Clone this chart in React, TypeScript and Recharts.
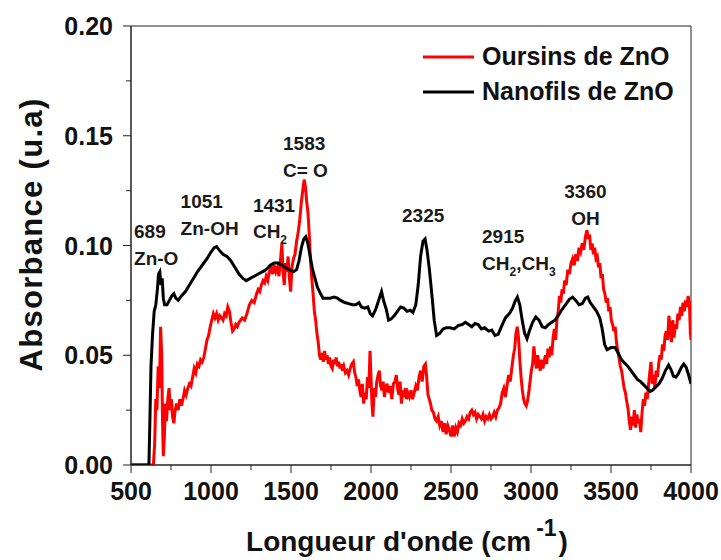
import React from 'react';
import { LineChart, Line, XAxis, YAxis, ReferenceArea, ReferenceDot, Legend, Label } from 'recharts';

const FONT = '"Liberation Sans", Arial, Helvetica, sans-serif';

// Oursins de ZnO (red)
const oursinsWavenumber = [
  500, 620, 640, 648, 655, 662, 670, 678, 685, 692, 697, 702, 708, 715, 722, 730, 738, 745, 752, 760,
  768, 776, 785, 795, 805, 815, 825, 835, 845, 855, 865, 875, 885, 895, 905, 915, 925, 935, 945, 955,
  965, 975, 985, 995, 1005, 1015, 1025, 1035, 1045, 1055, 1065, 1075, 1085, 1095, 1105, 1115, 1125, 1135, 1145, 1155,
  1165, 1175, 1185, 1195, 1210, 1225, 1240, 1255, 1270, 1285, 1295, 1305, 1315, 1325, 1335, 1345, 1355, 1365, 1375, 1385,
  1395, 1405, 1415, 1425, 1435, 1443, 1450, 1458, 1466, 1474, 1482, 1490, 1498, 1506, 1515, 1525, 1535, 1545, 1555, 1565,
  1575, 1582, 1590, 1598, 1606, 1614, 1622, 1630, 1638, 1646, 1654, 1662, 1670, 1678, 1686, 1694, 1702, 1710, 1718, 1726,
  1734, 1742, 1750, 1758, 1766, 1774, 1782, 1790, 1798, 1806, 1814, 1822, 1830, 1840, 1850, 1860, 1870, 1880, 1890, 1898,
  1906, 1914, 1922, 1930, 1938, 1946, 1954, 1962, 1970, 1978, 1986, 1994, 2000, 2006, 2012, 2020, 2028, 2036, 2044, 2052,
  2060, 2068, 2076, 2084, 2092, 2100, 2110, 2120, 2130, 2140, 2150, 2158, 2166, 2174, 2182, 2190, 2198, 2206, 2214, 2222,
  2230, 2240, 2250, 2260, 2270, 2280, 2290, 2300, 2310, 2320, 2330, 2340, 2348, 2356, 2364, 2372, 2380, 2390, 2400, 2410,
  2420, 2430, 2440, 2450, 2460, 2470, 2480, 2490, 2500, 2510, 2520, 2530, 2540, 2550, 2560, 2570, 2580, 2590, 2600, 2610,
  2620, 2630, 2640, 2650, 2660, 2670, 2680, 2690, 2700, 2710, 2720, 2730, 2740, 2750, 2760, 2770, 2780, 2790, 2800, 2810,
  2820, 2830, 2840, 2850, 2860, 2870, 2880, 2890, 2898, 2906, 2914, 2922, 2930, 2938, 2946, 2954, 2962, 2970, 2978, 2986,
  2994, 3002, 3010, 3018, 3026, 3034, 3042, 3050, 3058, 3066, 3074, 3082, 3090, 3098, 3106, 3114, 3122, 3130, 3138, 3146,
  3154, 3162, 3170, 3178, 3186, 3194, 3202, 3210, 3220, 3230, 3240, 3250, 3260, 3270, 3280, 3290, 3300, 3310, 3320, 3330,
  3340, 3350, 3358, 3366, 3374, 3382, 3390, 3398, 3406, 3414, 3422, 3430, 3438, 3446, 3454, 3462, 3470, 3478, 3486, 3494,
  3502, 3510, 3518, 3526, 3534, 3542, 3550, 3558, 3566, 3574, 3582, 3590, 3598, 3606, 3614, 3622, 3630, 3638, 3646, 3654,
  3662, 3670, 3678, 3686, 3694, 3702, 3710, 3718, 3726, 3734, 3742, 3750, 3758, 3766, 3774, 3782, 3790, 3798, 3806, 3814,
  3822, 3830, 3838, 3846, 3854, 3862, 3870, 3878, 3886, 3894, 3902, 3910, 3918, 3926, 3934, 3942, 3950, 3958, 3966, 3974,
  3982, 3990, 3996, 4000,
];
const oursinsAbs = [
  0, 0, 0, 0.01, 0.03, 0.025, 0.045, 0.035, 0.063, 0.05, 0.02, 0.004, 0.012, 0.028, 0.02, 0.03, 0.035, 0.025, 0.03, 0.022,
  0.019, 0.025, 0.028, 0.025, 0.03, 0.027, 0.03, 0.034, 0.032, 0.035, 0.037, 0.036, 0.04, 0.044, 0.042, 0.046, 0.045, 0.048, 0.047, 0.049,
  0.053, 0.057, 0.059, 0.063, 0.066, 0.069, 0.067, 0.069, 0.066, 0.068, 0.067, 0.066, 0.069, 0.068, 0.072, 0.07, 0.065, 0.061, 0.062, 0.064,
  0.063, 0.065, 0.066, 0.067, 0.066, 0.069, 0.073, 0.075, 0.074, 0.078, 0.08, 0.079, 0.082, 0.084, 0.083, 0.086, 0.084, 0.088, 0.09, 0.087,
  0.091, 0.088, 0.09, 0.086, 0.094, 0.101, 0.088, 0.082, 0.092, 0.088, 0.095, 0.085, 0.079, 0.09, 0.094, 0.096, 0.102, 0.106, 0.112, 0.12,
  0.126, 0.13, 0.127, 0.12, 0.115, 0.105, 0.093, 0.085, 0.078, 0.07, 0.066, 0.06, 0.056, 0.05, 0.048, 0.051, 0.047, 0.052, 0.048, 0.05,
  0.046, 0.049, 0.045, 0.044, 0.048, 0.046, 0.049, 0.045, 0.047, 0.044, 0.046, 0.043, 0.045, 0.042, 0.043, 0.041, 0.044, 0.046, 0.047, 0.042,
  0.04, 0.036, 0.039, 0.034, 0.031, 0.037, 0.028, 0.033, 0.03, 0.04, 0.035, 0.052, 0.04, 0.028, 0.022, 0.035, 0.031, 0.038, 0.041, 0.043,
  0.036, 0.034, 0.038, 0.031, 0.035, 0.037, 0.033, 0.036, 0.03, 0.037, 0.038, 0.041, 0.035, 0.032, 0.038, 0.028, 0.034, 0.031, 0.035, 0.03,
  0.033, 0.031, 0.034, 0.03, 0.033, 0.036, 0.034, 0.04, 0.043, 0.038, 0.045, 0.046, 0.04, 0.032, 0.03, 0.028, 0.025, 0.024, 0.021, 0.02,
  0.022, 0.018, 0.02, 0.015, 0.019, 0.014, 0.018, 0.016, 0.013, 0.018, 0.013, 0.017, 0.015, 0.019, 0.018, 0.021, 0.019, 0.02, 0.022, 0.021,
  0.024, 0.025, 0.023, 0.024, 0.021, 0.023, 0.022, 0.021, 0.023, 0.02, 0.022, 0.021, 0.023, 0.021, 0.022, 0.024, 0.022, 0.025, 0.026, 0.028,
  0.033, 0.035, 0.031, 0.036, 0.041, 0.038, 0.044, 0.05, 0.053, 0.06, 0.063, 0.058, 0.048, 0.04, 0.034, 0.03, 0.028, 0.027, 0.029, 0.033,
  0.038, 0.043, 0.046, 0.054, 0.048, 0.044, 0.05, 0.046, 0.043, 0.048, 0.044, 0.047, 0.05, 0.046, 0.053, 0.049, 0.054, 0.05, 0.058, 0.062,
  0.057, 0.066, 0.07, 0.077, 0.074, 0.08, 0.078, 0.084, 0.082, 0.089, 0.087, 0.092, 0.094, 0.091, 0.096, 0.093, 0.099, 0.097, 0.101, 0.098,
  0.104, 0.107, 0.103, 0.105, 0.098, 0.101, 0.096, 0.099, 0.094, 0.095, 0.09, 0.092, 0.085, 0.087, 0.08, 0.078, 0.074, 0.076, 0.07, 0.072,
  0.066, 0.064, 0.061, 0.063, 0.056, 0.052, 0.049, 0.045, 0.043, 0.039, 0.035, 0.033, 0.029, 0.026, 0.02, 0.016, 0.022, 0.018, 0.025, 0.017,
  0.023, 0.019, 0.021, 0.015, 0.024, 0.03, 0.027, 0.033, 0.03, 0.036, 0.042, 0.047, 0.037, 0.041, 0.035, 0.043, 0.04, 0.046, 0.05, 0.048,
  0.055, 0.052, 0.059, 0.061, 0.057, 0.068, 0.062, 0.056, 0.066, 0.058, 0.064, 0.062, 0.069, 0.066, 0.072, 0.068, 0.074, 0.07, 0.075, 0.072,
  0.077, 0.074, 0.06, 0.057,
];

// Nanofils de ZnO (black)
const nanofilsWavenumber = [
  500, 600, 612, 618, 625, 635, 645, 655, 665, 672, 680, 688, 695, 702, 710, 725, 740, 755, 768, 780,
  795, 815, 840, 865, 890, 915, 945, 975, 1000, 1020, 1035, 1050, 1075, 1100, 1125, 1150, 1175, 1200, 1220, 1245,
  1270, 1295, 1320, 1345, 1370, 1395, 1420, 1445, 1465, 1490, 1515, 1535, 1550, 1565, 1580, 1592, 1605, 1620, 1635, 1650,
  1665, 1685, 1700, 1720, 1745, 1770, 1790, 1810, 1835, 1860, 1885, 1905, 1925, 1940, 1960, 1980, 1995, 2010, 2030, 2050,
  2066, 2080, 2095, 2110, 2125, 2145, 2165, 2185, 2205, 2225, 2245, 2262, 2280, 2295, 2310, 2325, 2338, 2350, 2365, 2380,
  2395, 2410, 2430, 2450, 2470, 2495, 2520, 2545, 2570, 2590, 2610, 2630, 2650, 2670, 2690, 2710, 2735, 2755, 2775, 2795,
  2815, 2840, 2865, 2885, 2900, 2915, 2930, 2945, 2960, 2975, 2990, 3010, 3030, 3050, 3070, 3090, 3110, 3130, 3150, 3170,
  3190, 3215, 3240, 3260, 3280, 3300, 3320, 3340, 3355, 3370, 3390, 3410, 3430, 3445, 3460, 3475, 3500, 3525, 3545, 3565,
  3585, 3605, 3625, 3645, 3665, 3685, 3705, 3725, 3745, 3760, 3780, 3800, 3820, 3840, 3860, 3875, 3890, 3905, 3920, 3940,
  3955, 3970, 3985, 4000,
];
const nanofilsAbs = [
  0, 0, 0, 0.02, 0.045, 0.06, 0.07, 0.073, 0.08, 0.087, 0.088, 0.082, 0.085, 0.076, 0.073, 0.073, 0.075, 0.077, 0.078, 0.076,
  0.075, 0.077, 0.079, 0.082, 0.085, 0.088, 0.091, 0.094, 0.097, 0.099, 0.0995, 0.098, 0.096, 0.095, 0.093, 0.09, 0.087, 0.085, 0.084, 0.085,
  0.086, 0.087, 0.088, 0.089, 0.091, 0.092, 0.092, 0.091, 0.09, 0.089, 0.088, 0.089, 0.093, 0.099, 0.103, 0.104, 0.101, 0.095, 0.089, 0.085,
  0.081, 0.078, 0.076, 0.076, 0.076, 0.0765, 0.076, 0.075, 0.074, 0.0735, 0.073, 0.073, 0.074, 0.072, 0.0715, 0.072, 0.069, 0.068, 0.071, 0.0755,
  0.079, 0.0745, 0.071, 0.066, 0.0665, 0.068, 0.07, 0.072, 0.0715, 0.07, 0.0705, 0.0695, 0.073, 0.082, 0.095, 0.102, 0.103, 0.098, 0.089, 0.078,
  0.066, 0.059, 0.06, 0.062, 0.0625, 0.0625, 0.062, 0.0635, 0.064, 0.065, 0.064, 0.063, 0.0645, 0.064, 0.062, 0.0625, 0.061, 0.0615, 0.059, 0.0595,
  0.063, 0.067, 0.069, 0.0715, 0.0745, 0.0765, 0.073, 0.066, 0.06, 0.0575, 0.061, 0.065, 0.0675, 0.066, 0.063, 0.0625, 0.064, 0.065, 0.066, 0.068,
  0.0705, 0.073, 0.0755, 0.0765, 0.075, 0.073, 0.0735, 0.076, 0.0765, 0.074, 0.072, 0.07, 0.067, 0.062, 0.055, 0.0525, 0.0535, 0.0535, 0.051, 0.048,
  0.0465, 0.045, 0.043, 0.041, 0.039, 0.038, 0.0365, 0.035, 0.0335, 0.034, 0.0355, 0.037, 0.0395, 0.043, 0.0455, 0.0435, 0.0405, 0.04, 0.0415, 0.0445,
  0.046, 0.0445, 0.041, 0.037,
];

const xTicks = [500, 750, 1000, 1250, 1500, 1750, 2000, 2250, 2500, 2750, 3000, 3250, 3500, 3750, 4000];
const yTicks = [0, 0.025, 0.05, 0.075, 0.1, 0.125, 0.15, 0.175, 0.2];

type Seg = { t: string; sub?: boolean };
// peak annotations: anchor wavenumber / absorbance of the first text line
const annotations: { x: number; y: number; anchor: 'start' | 'middle'; title: string; label: Seg[] }[] = [
  { x: 519, y: 0.1034, anchor: 'start', title: '689', label: [{ t: 'Zn-O' }] },
  { x: 810, y: 0.117, anchor: 'start', title: '1051', label: [{ t: 'Zn-OH' }] },
  { x: 1262, y: 0.1153, anchor: 'start', title: '1431', label: [{ t: 'CH' }, { t: '2', sub: true }] },
  { x: 1450, y: 0.1435, anchor: 'start', title: '1583', label: [{ t: 'C= O' }] },
  { x: 2194, y: 0.1107, anchor: 'start', title: '2325', label: [] },
  { x: 2694, y: 0.1011, anchor: 'start', title: '2915', label: [{ t: 'CH' }, { t: '2', sub: true }, { t: ',CH' }, { t: '3', sub: true }] },
  { x: 3340, y: 0.1216, anchor: 'middle', title: '3360', label: [{ t: 'OH' }] },
];

const oursinsData = oursinsWavenumber.map((w, i) => ({ w, a: oursinsAbs[i] }));
const nanofilsData = nanofilsWavenumber.map((w, i) => ({ w, a: nanofilsAbs[i] }));

const AXIS = '#222';

function XTick(props: any) {
  const { x, y, payload } = props;
  const major = payload.value % 500 === 0;
  return (
    <g>
      <line x1={x} x2={x} y1={y} y2={y + (major ? 8 : 5)} stroke={AXIS} strokeWidth={1} />
      {major && (
        <text x={x} y={y + 35} textAnchor="middle" fontFamily={FONT} fontWeight="bold" fontSize={25} fill="#111">
          {payload.value}
        </text>
      )}
    </g>
  );
}

function YTick(props: any) {
  const { x, y, payload } = props;
  const major = Math.round(payload.value * 1000) % 50 === 0;
  return (
    <g>
      <line x1={x - (major ? 8 : 5)} x2={x} y1={y} y2={y} stroke={AXIS} strokeWidth={1} />
      {major && (
        <text x={x - 18} y={y + 9} textAnchor="end" fontFamily={FONT} fontWeight="bold" fontSize={25} fill="#111">
          {payload.value.toFixed(2)}
        </text>
      )}
    </g>
  );
}

function XTitle(props: any) {
  const vb = props.viewBox;
  const cx = vb.x + vb.width / 2 - 4;
  const by = vb.y + 86;
  return (
    <text x={cx} y={by} textAnchor="middle" fontFamily={FONT} fontWeight="bold" fontSize={28} fill="#111">
      <tspan>Longueur d'onde (cm</tspan>
      <tspan fontSize={23} dx={5} dy={-15}>-1</tspan>
      <tspan dx={2} dy={15}>)</tspan>
    </text>
  );
}

function YTitle(props: any) {
  const vb = props.viewBox;
  const cx = 42;
  const cy = vb.y + vb.height / 2 - 11;
  return (
    <text
      x={cx}
      y={cy}
      transform={`rotate(-90 ${cx} ${cy})`}
      textAnchor="middle"
      fontFamily={FONT}
      fontWeight="bold"
      fontSize={31}
      letterSpacing={1.3}
      fill="#111"
    >
      Absorbance (u.a)
    </text>
  );
}

function makeAnnotation(a: (typeof annotations)[number]) {
  return (props: any) => {
    const vb = props.viewBox;
    const x = vb.x;
    const y = vb.y;
    return (
      <g>
        <text x={x} y={y} textAnchor={a.anchor} fontFamily={FONT} fontWeight="bold" fontSize={19} fill="#1a1a1a">
          {a.title}
        </text>
        {a.label.length > 0 && (
          <text x={x} y={y + 26.5} textAnchor={a.anchor} fontFamily={FONT} fontWeight="bold" fontSize={19} fill="#1a1a1a">
            {a.label.map((s, i) => {
              const prevSub = i > 0 && a.label[i - 1].sub;
              const dy = s.sub ? 6 : prevSub ? -6 : 0;
              return (
                <tspan key={i} fontSize={s.sub ? 12 : 19} dy={dy}>
                  {s.t}
                </tspan>
              );
            })}
          </text>
        )}
      </g>
    );
  };
}

const legendItems = [
  { name: 'Oursins de ZnO', color: '#ff0000' },
  { name: 'Nanofils de ZnO', color: '#000000' },
];

function LegendContent() {
  return (
    <svg width={290} height={72} style={{ display: 'block' }}>
      {legendItems.map((it, i) => {
        const ly = 17 + i * 35;
        return (
          <g key={it.name}>
            <line x1={3} x2={54} y1={ly} y2={ly} stroke={it.color} strokeWidth={3} />
            <text x={62} y={ly + 8} fontFamily={FONT} fontWeight="bold" fontSize={25} fill="#111">
              {it.name}
            </text>
          </g>
        );
      })}
    </svg>
  );
}

export default function App() {
  return (
    <div style={{ position: 'absolute', left: 0, top: 0, width: 721, height: 560, background: '#fff' }}>
      <LineChart width={721} height={560} margin={{ top: 26, right: 30, bottom: 0, left: 0 }}>
        <XAxis
          dataKey="w"
          type="number"
          domain={[500, 4000]}
          ticks={xTicks}
          interval={0}
          allowDataOverflow
          height={95}
          tickSize={0}
          tickMargin={0}
          tickLine={false}
          axisLine={{ stroke: AXIS, strokeWidth: 1 }}
          tick={<XTick />}
        >
          <Label content={<XTitle />} />
        </XAxis>
        <YAxis
          type="number"
          domain={[0, 0.2]}
          ticks={yTicks}
          interval={0}
          allowDataOverflow
          width={131}
          tickSize={0}
          tickMargin={0}
          tickLine={false}
          axisLine={{ stroke: AXIS, strokeWidth: 1 }}
          tick={<YTick />}
        >
          <Label content={<YTitle />} />
        </YAxis>
        <ReferenceArea x1={500} x2={4000} y1={0} y2={0.2} fill="none" stroke={AXIS} strokeWidth={1} ifOverflow="visible" />
        <Legend
          layout="vertical"
          align="center"
          verticalAlign="middle"
          content={<LegendContent />}
          wrapperStyle={{ left: 420, top: 40, width: 290, height: 72 }}
        />
        <Line
          data={oursinsData}
          dataKey="a"
          name="Oursins de ZnO"
          type="linear"
          stroke="#ff0000"
          strokeWidth={3}
          dot={false}
          isAnimationActive={false}
        />
        <Line
          data={nanofilsData}
          dataKey="a"
          name="Nanofils de ZnO"
          type="linear"
          stroke="#000000"
          strokeWidth={3}
          dot={false}
          isAnimationActive={false}
        />
        {annotations.map((a) => (
          <ReferenceDot
            key={a.title}
            x={a.x}
            y={a.y}
            r={0}
            fill="none"
            stroke="none"
            ifOverflow="visible"
            label={makeAnnotation(a)}
          />
        ))}
      </LineChart>
    </div>
  );
}
